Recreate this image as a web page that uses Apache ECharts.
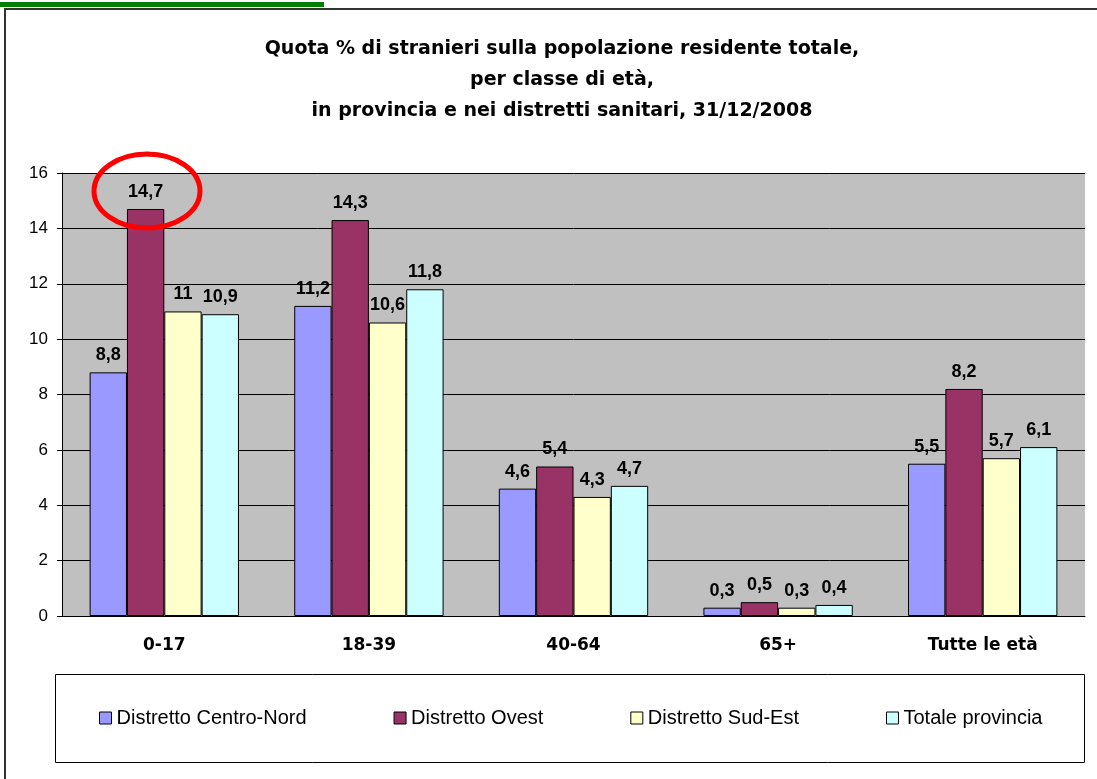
<!DOCTYPE html>
<html>
<head>
<meta charset="utf-8">
<script src="https://cdn.jsdelivr.net/npm/echarts@6/dist/echarts.min.js"></script>
<style>
  html, body { margin: 0; padding: 0; background: #fff; }
  #chart { width: 1097px; height: 779px; }
</style>
</head>
<body>
<div id="chart"></div>
<script>
const categories = ["0-17", "18-39", "40-64", "65+", "Tutte le età"];
const seriesNames = ["Distretto Centro-Nord", "Distretto Ovest", "Distretto Sud-Est", "Totale provincia"];
const centroNord = [8.8, 11.2, 4.6, 0.3, 5.5];
const ovest = [14.7, 14.3, 5.4, 0.5, 8.2];
const sudEst = [11, 10.6, 4.3, 0.3, 5.7];
const totale = [10.9, 11.8, 4.7, 0.4, 6.1];
const colors = ["#9999FF", "#993366", "#FFFFCC", "#CCFFFF"];

const font = "Liberation Sans, Arial, sans-serif";
// wider face to mimic the spaced-out bold text of the original
const wideFont = "DejaVu Sans, sans-serif";

const fmt = p => String(p.value).replace(".", ",");

const makeSeries = (name, data, color) => ({
  name: name,
  type: "bar",
  data: data,
  barGap: 0,
  barCategoryGap: "27%",
  itemStyle: { color: color, borderColor: "#000", borderWidth: 1 },
  label: {
    show: true,
    position: "top",
    distance: 8,
    formatter: fmt,
    color: "#000",
    fontFamily: font,
    fontWeight: "bold",
    fontSize: 18
  }
});

const chart = echarts.init(document.getElementById("chart"));

chart.setOption({
  animation: false,
  textStyle: { fontFamily: font },
  title: {
    text: "Quota % di stranieri sulla popolazione residente totale,\nper classe di età,\nin provincia e nei distretti sanitari, 31/12/2008",
    left: 557,
    textAlign: "center",
    top: 29,
    textStyle: {
      fontFamily: wideFont,
      fontWeight: "bold",
      fontSize: 19,
      lineHeight: 31,
      color: "#000"
    }
  },
  legend: {
    data: seriesNames,
    left: 94,
    top: 703,
    itemWidth: 12,
    itemHeight: 12,
    itemGap: 87,
    icon: "rect",
    itemStyle: { borderColor: "#000", borderWidth: 1 },
    textStyle: { fontFamily: font, fontSize: 20, color: "#000" }
  },
  grid: { left: 62, right: 12, top: 173, bottom: 163 },
  xAxis: {
    type: "category",
    data: categories,
    axisLine: { lineStyle: { color: "#000", width: 1 } },
    axisTick: { length: 5, lineStyle: { color: "#000" } },
    axisLabel: {
      margin: 21,
      color: "#000",
      fontFamily: wideFont,
      fontWeight: "bold",
      fontSize: 17
    }
  },
  yAxis: {
    type: "value",
    min: 0,
    max: 16,
    interval: 2,
    axisLine: { show: true, lineStyle: { color: "#000", width: 1 } },
    axisTick: { show: true, length: 5, lineStyle: { color: "#000" } },
    axisLabel: { margin: 14, color: "#000", fontFamily: font, fontSize: 17 },
    splitLine: { lineStyle: { color: "#000", width: 1 } },
    splitArea: { show: false }
  },
  graphic: [
    {
      type: "rect",
      shape: { x: 0, y: 2, width: 324, height: 5 },
      style: { fill: "#008000" },
      silent: true
    },
    {
      type: "rect",
      shape: { x: 5, y: 9, width: 1200, height: 1000 },
      style: { fill: "none", stroke: "#333", lineWidth: 2 },
      silent: true
    },
    {
      type: "rect",
      z: -10,
      shape: { x: 62, y: 173, width: 1023, height: 443 },
      style: { fill: "#C0C0C0" },
      silent: true
    },
    {
      type: "rect",
      shape: { x: 55.5, y: 674.5, width: 1029, height: 88 },
      style: { fill: "none", stroke: "#000", lineWidth: 1 },
      silent: true
    },
    {
      type: "ellipse",
      z: 100,
      shape: { cx: 147, cy: 191, rx: 53, ry: 37 },
      style: { fill: "none", stroke: "#FF0000", lineWidth: 5 },
      silent: true
    }
  ],
  series: [
    makeSeries(seriesNames[0], centroNord, colors[0]),
    makeSeries(seriesNames[1], ovest, colors[1]),
    makeSeries(seriesNames[2], sudEst, colors[2]),
    makeSeries(seriesNames[3], totale, colors[3])
  ]
});
</script>
</body>
</html>
